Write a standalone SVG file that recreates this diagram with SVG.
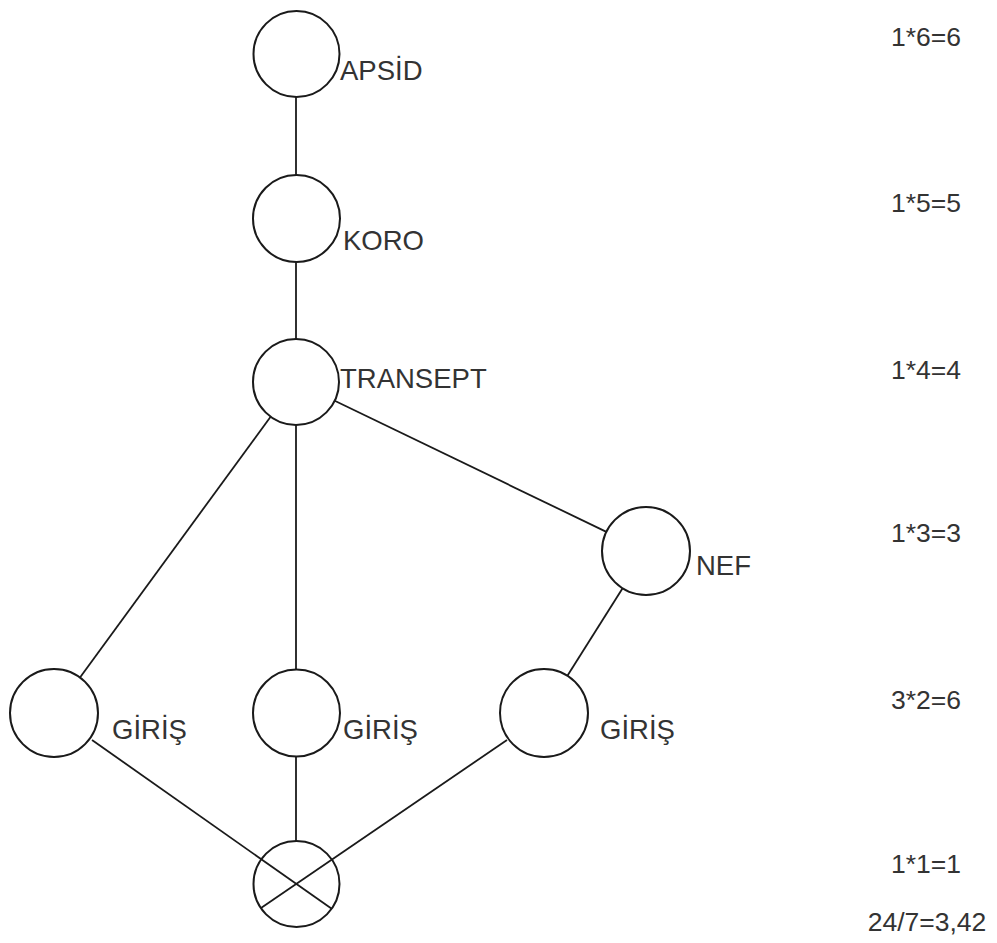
<svg xmlns="http://www.w3.org/2000/svg" width="997" height="943" viewBox="0 0 997 943">
  <style>
    .node { fill: #ffffff; stroke: #1a1a1a; stroke-width: 2; }
    .edge { stroke: #1a1a1a; stroke-width: 1.8; fill: none; }
    .label { font-family: "Liberation Sans", Arial, sans-serif; font-size: 27.5px; fill: #333333; }
    .score { font-family: "Liberation Sans", Arial, sans-serif; font-size: 26.5px; fill: #333333; text-anchor: middle; }
  </style>
  <rect width="997" height="943" fill="#ffffff"/>

  <!-- connectors between spaces -->
  <g id="connectors">
    <line class="edge" x1="296" y1="97" x2="296" y2="175"/>
    <line class="edge" x1="296" y1="262" x2="296" y2="339"/>
    <line class="edge" x1="296" y1="425" x2="296" y2="670"/>
    <line class="edge" x1="270.6" y1="416.7" x2="80" y2="677.5"/>
    <line class="edge" x1="334.7" y1="400.7" x2="606.4" y2="531.9"/>
    <line class="edge" x1="622.6" y1="588.2" x2="567.4" y2="675.8"/>
    <line class="edge" x1="296" y1="756" x2="296" y2="841"/>
    <line class="edge" x1="92" y1="740" x2="331.7" y2="908.8"/>
    <line class="edge" x1="507" y1="740" x2="261" y2="908"/>
  </g>

  <g id="apsid">
    <circle class="node" cx="296.5" cy="54" r="43"/>
    <text class="label" x="340" y="80">APSİD</text>
  </g>
  <g id="koro">
    <circle class="node" cx="296.5" cy="218.5" r="43.5"/>
    <text class="label" x="343" y="250">KORO</text>
  </g>
  <g id="transept">
    <circle class="node" cx="296" cy="382" r="43"/>
    <text class="label" x="340" y="388">TRANSEPT</text>
  </g>
  <g id="nef">
    <circle class="node" cx="646" cy="551" r="44"/>
    <text class="label" x="696" y="575">NEF</text>
  </g>
  <g id="giris-left">
    <circle class="node" cx="54" cy="713" r="44"/>
    <text class="label" x="112" y="739">GİRİŞ</text>
  </g>
  <g id="giris-middle">
    <circle class="node" cx="296.5" cy="713" r="43.5"/>
    <text class="label" x="343" y="739">GİRİŞ</text>
  </g>
  <g id="giris-right">
    <circle class="node" cx="544" cy="713" r="44"/>
    <text class="label" x="600" y="739">GİRİŞ</text>
  </g>
  <g id="outside">
    <circle class="node" cx="296.5" cy="884" r="43" fill="none" style="fill:none"/>
  </g>

  <!-- depth values per level -->
  <g id="depth-values">
    <text class="score" x="926" y="46">1*6=6</text>
    <text class="score" x="926" y="212">1*5=5</text>
    <text class="score" x="926" y="379">1*4=4</text>
    <text class="score" x="926" y="542">1*3=3</text>
    <text class="score" x="926" y="709">3*2=6</text>
    <text class="score" x="926" y="873">1*1=1</text>
    <text class="score" x="927" y="931">24/7=3,42</text>
  </g>
</svg>
